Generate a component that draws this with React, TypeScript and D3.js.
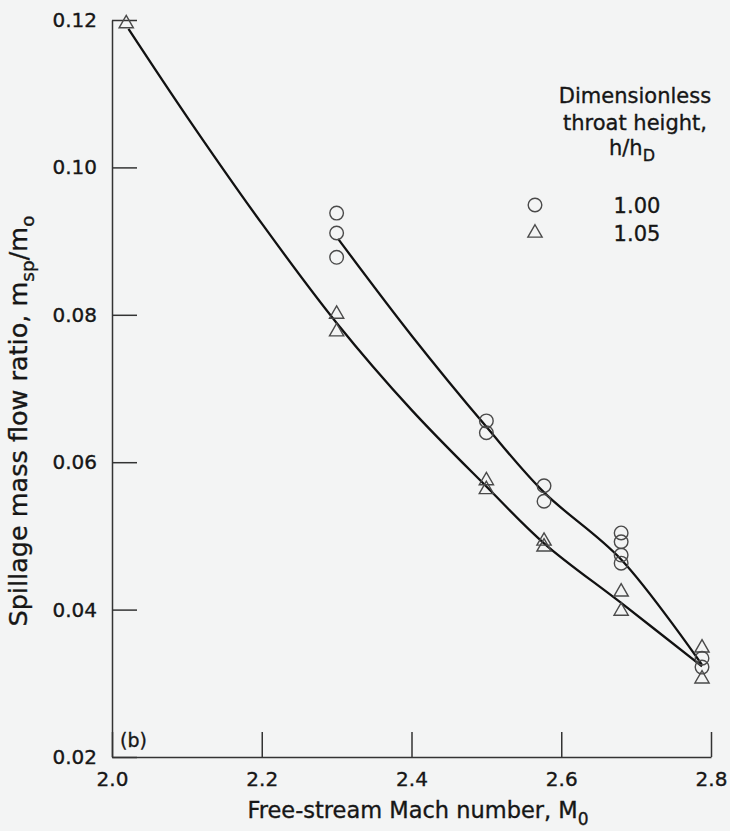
import React, { useEffect, useRef } from "react";
import * as d3 from "d3";

// axis ticks
const machTicks = [2.0, 2.2, 2.4, 2.6, 2.8];
const ratioTicks = [0.02, 0.04, 0.06, 0.08, 0.1, 0.12];

// measured points, h/hD = 1.00 (circles)
const circleMach = [2.3, 2.3, 2.3, 2.5, 2.5, 2.577, 2.577, 2.68, 2.68, 2.68, 2.68, 2.788, 2.788];
const circleRatio = [0.0938, 0.0911, 0.0878, 0.0656, 0.064, 0.0568, 0.0547, 0.0504, 0.0492, 0.0474, 0.0463, 0.0334, 0.0322];

// measured points, h/hD = 1.05 (triangles)
const triMach = [2.019, 2.3, 2.3, 2.5, 2.5, 2.577, 2.577, 2.68, 2.68, 2.788, 2.788];
const triRatio = [0.1195, 0.0801, 0.0777, 0.0575, 0.0563, 0.0493, 0.0485, 0.0424, 0.0398, 0.0348, 0.0306];

// faired curves
const upperCurveMach = [2.302, 2.4, 2.5, 2.577, 2.68, 2.788];
const upperCurveRatio = [0.0903, 0.0772, 0.0648, 0.0559, 0.0468, 0.0325];
const lowerCurveMach = [2.022, 2.1, 2.2, 2.3, 2.4, 2.5, 2.577, 2.68, 2.788];
const lowerCurveRatio = [0.1188, 0.1069, 0.0924, 0.0789, 0.0671, 0.0567, 0.049, 0.0409, 0.0323];

const legendLabels = ["1.00", "1.05"];

const W = 730;
const H = 831;
const FONT = "'DejaVu Sans', sans-serif";
const INK = "#161616";

const App = () => {
  const svgRef = useRef<SVGSVGElement>(null);

  useEffect(() => {
    const svg = d3.select(svgRef.current);
    svg.selectAll("*").remove();

    const x = d3.scaleLinear().domain([2.0, 2.8]).range([112, 711]);
    const y = d3.scaleLinear().domain([0.02, 0.12]).range([757, 20]);

    svg.append("rect").attr("width", W).attr("height", H).attr("fill", "#f3f4f4");

    const yAxis = d3
      .axisLeft(y)
      .tickValues(ratioTicks)
      .tickFormat(d3.format(".2f"))
      .tickSizeInner(-25)
      .tickSizeOuter(0)
      .tickPadding(15);
    const xAxis = d3
      .axisBottom(x)
      .tickValues(machTicks)
      .tickFormat(d3.format(".1f"))
      .tickSizeInner(-25)
      .tickSizeOuter(0)
      .tickPadding(15);

    const gy = svg.append("g").attr("transform", `translate(${x(2.0)},0)`).call(yAxis);
    const gx = svg.append("g").attr("transform", `translate(0,${y(0.02)})`).call(xAxis);
    [gx, gy].forEach((g) => {
      g.select(".domain").attr("stroke", "#333").attr("stroke-width", 1.5);
      g.selectAll(".tick line").attr("stroke", "#333").attr("stroke-width", 1.5);
      g.selectAll(".tick text")
        .attr("fill", INK)
        .attr("stroke", INK)
        .attr("stroke-width", 0.35)
        .style("font-family", FONT)
        .style("font-size", "20px");
    });

    // curves
    const line = d3
      .line<[number, number]>()
      .x((d) => x(d[0]))
      .y((d) => y(d[1]))
      .curve(d3.curveCatmullRom.alpha(0.5));
    const upper = upperCurveMach.map((m, i) => [m, upperCurveRatio[i]] as [number, number]);
    const lower = lowerCurveMach.map((m, i) => [m, lowerCurveRatio[i]] as [number, number]);
    svg
      .selectAll("path.curve")
      .data([upper, lower])
      .enter()
      .append("path")
      .attr("class", "curve")
      .attr("d", (d) => line(d))
      .attr("fill", "none")
      .attr("stroke", "#111")
      .attr("stroke-width", 2.3);

    // symbols
    const tri = d3.symbol(d3.symbolTriangle, 88);
    svg
      .append("g")
      .selectAll("circle")
      .data(circleMach.map((m, i) => [m, circleRatio[i]]))
      .enter()
      .append("circle")
      .attr("cx", (d) => x(d[0]))
      .attr("cy", (d) => y(d[1]))
      .attr("r", 6.8)
      .attr("fill", "none")
      .attr("stroke", "#4a4a4a")
      .attr("stroke-width", 1.4);
    svg
      .append("g")
      .selectAll("path")
      .data(triMach.map((m, i) => [m, triRatio[i]]))
      .enter()
      .append("path")
      .attr("d", tri())
      .attr("transform", (d) => `translate(${x(d[0])},${y(d[1])})`)
      .attr("fill", "none")
      .attr("stroke", "#4a4a4a")
      .attr("stroke-width", 1.4);

    const txt = (px: number, py: number, anchor = "middle", size = 21) =>
      svg
        .append("text")
        .attr("x", px)
        .attr("y", py)
        .attr("text-anchor", anchor)
        .attr("fill", INK)
        .attr("stroke", INK)
        .attr("stroke-width", 0.35)
        .style("font-family", FONT)
        .style("font-size", `${size}px`);

    // panel tag
    txt(120, 747, "start", 19).text("(b)");

    // x title
    const xt = txt(418, 818, "middle", 22.5);
    xt.append("tspan").text("Free-stream Mach number, M");
    xt.append("tspan").attr("dy", 7).style("font-size", "17px").text("0");

    // y title
    const yt = txt(0, 0, "middle", 25.5).attr("transform", "translate(27,421) rotate(-90)");
    yt.append("tspan").text("Spillage mass flow ratio, m");
    yt.append("tspan").attr("dy", 7).style("font-size", "18.5px").text("sp");
    yt.append("tspan").attr("dy", -7).text("/m");
    yt.append("tspan").attr("dy", 7).style("font-size", "18.5px").text("o");

    // legend
    txt(635, 103).text("Dimensionless");
    txt(635, 130).text("throat height,");
    const lh = txt(632, 155);
    lh.append("tspan").text("h/h");
    lh.append("tspan").attr("dy", 6).style("font-size", "16px").text("D");

    legendLabels.forEach((label, i) => {
      const ly = 205 + i * 28;
      txt(637, ly + 8).text(label);
      if (i === 0) {
        svg
          .append("circle")
          .attr("cx", 535)
          .attr("cy", ly)
          .attr("r", 6.8)
          .attr("fill", "none")
          .attr("stroke", "#4a4a4a")
          .attr("stroke-width", 1.4);
      } else {
        svg
          .append("path")
          .attr("d", tri())
          .attr("transform", `translate(535,${ly})`)
          .attr("fill", "none")
          .attr("stroke", "#4a4a4a")
          .attr("stroke-width", 1.4);
      }
    });
  }, []);

  return (
    <svg
      ref={svgRef}
      width={W}
      height={H}
      style={{ position: "absolute", left: 0, top: 0, display: "block" }}
    />
  );
};

export default App;
